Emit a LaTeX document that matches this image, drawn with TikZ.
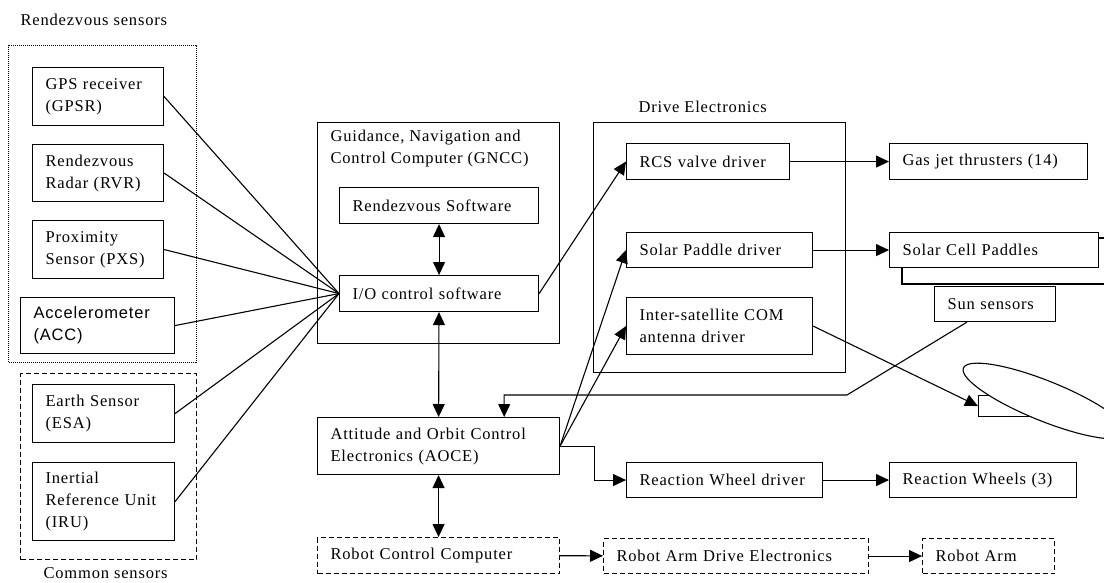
\documentclass[tikz,border=0pt]{standalone}
\usepackage{fontspec}
\setmainfont{Liberation Serif}[LetterSpace=5]
\newfontfamily\accfont{Liberation Sans}[LetterSpace=5]
\usetikzlibrary{arrows.meta,calc}
\tikzset{every node/.style={font=\fontsize{16.5}{22}\selectfont}}
\tikzset{box/.style={draw, fill=white, anchor=north west, inner xsep=13pt, inner ysep=0pt, align=left},
  sz/.code 2 args={\pgfmathsetlengthmacro\boxtw{#1-26}\tikzset{minimum width=#1pt, text width=\boxtw, minimum height=#2pt}},
  grp/.style={box, fill=none},
  lbl/.style={anchor=west, inner sep=0pt},
  arr/.style={-{Triangle[length=13pt,width=12pt]}},
  dbl/.style={{Triangle[length=13pt,width=12pt]}-{Triangle[length=13pt,width=12pt]}}}

\begin{document}
\begin{tikzpicture}[x=1pt,y=-1pt,line width=1.1pt]
   \useasboundingbox (0,0) rectangle (1104,583);
   \clip (0,0) rectangle (1104,583);
   % sensors
   \node[lbl] (rdvlbl) at (20,20) {Rendezvous sensors};
   \node[grp, sz={188}{317}, dash pattern=on 1pt off 1pt] (rdv) at (8,45) {};
   \node[grp, sz={176}{186}, dash pattern=on 5pt off 3pt] (com) at (20,373) {};
   \node[lbl] (comlbl) at (43,573) {Common sensors};
   \node[box, sz={131}{58}] (gps) at (32,67)  {GPS receiver\\(GPSR)};
   \node[box, sz={131}{57}] (rvr) at (32,144) {Rendezvous\\Radar (RVR)};
   \node[box, sz={131}{58}] (pxs) at (32,220) {Proximity\\Sensor (PXS)};
   \node[box, sz={154}{56}, font=\fontsize{16.5}{22}\accfont] (acc) at (20,297) {Accelerometer\\(ACC)};
   \node[box, sz={142}{58}] (esa) at (32,384) {Earth Sensor\\(ESA)};
   \node[box, sz={142}{78}] (iru) at (32,462) {Inertial\\Reference Unit\\(IRU)};
   % GNCC
   \node[grp, sz={242}{221}] (gncc) at (317,122) {};
   \node[anchor=north west, inner sep=0pt, align=left] (gnccttl) at (330,130) {Guidance, Navigation and\\Control Computer (GNCC)};
   \node[box, sz={199}{36}] (rdvsw) at (339,187) {Rendezvous Software};
   \node[box, sz={199}{36}] (io) at (339,275) {I/O control software};
   \node[box, sz={242}{57}] (aoce) at (317,417) {Attitude and Orbit Control\\Electronics (AOCE)};
   \node[box, sz={242}{36}, dash pattern=on 5pt off 3pt] (rcc) at (317,537) {Robot Control Computer};
   % drive electronics
   \node[lbl] (drvlbl) at (638,107) {Drive Electronics};
   \node[grp, sz={252}{250}] (drv) at (593,122) {};
   \node[box, sz={163}{36}] (rcs) at (626,143) {RCS valve driver};
   \node[box, sz={186}{35}] (spd) at (626,232) {Solar Paddle driver};
   \node[box, sz={186}{57}] (isl) at (626,297) {Inter-satellite COM\\antenna driver};
   \node[box, sz={196}{35}] (rwd) at (626,462) {Reaction Wheel driver};
   \node[box, sz={265}{35}, dash pattern=on 5pt off 3pt] (rade) at (603,538) {Robot Arm Drive Electronics};
   % actuators
   \node[box, sz={198}{36}] (gas) at (889,143) {Gas jet thrusters (14)};
   \draw (902,238) rectangle (1130,284);
   \node[box, sz={209}{35}] (scp) at (889,232) {Solar Cell Paddles};
   \node[box, sz={121}{35}] (sun) at (934,286) {Sun sensors};
   \node[box, sz={187}{35}] (rw) at (889,462) {Reaction Wheels (3)};
   \node[box, sz={132}{35}, dash pattern=on 5pt off 3pt] (arm) at (922,538) {Robot Arm};
   \node[box, sz={90}{21}] (ant) at (978,395) {};
   \draw[fill=white, rotate around={-22:(1045,401)}] (1045,401) ellipse [x radius=88pt, y radius=20pt];
   % connections
   \draw (gps.east) -- (io.west);
   \draw (rvr.east) -- (io.west);
   \draw (pxs.east) -- (io.west);
   \draw (acc.east) -- (io.west);
   \draw (esa.east) -- (io.west);
   \draw (iru.east) -- (io.west);
   \draw[dbl] (rdvsw) -- (io);
   \draw[dbl] (io) -- (aoce);
   \draw[dbl] (aoce) -- (rcc);
   \draw[arr] (io.east) -- (rcs.west);
   \draw[arr] (aoce.east) -- (spd.west);
   \draw[arr] (aoce.east) -- (isl.west);
   \draw[arr] (aoce.east) -- ++(34,0) |- (rwd.west);
   \draw[arr] (rcs) -- (gas);
   \draw[arr] (spd) -- (scp);
   \draw[arr] (rwd) -- (rw);
   \draw[arr] (rcc) -- (rade);
   \draw[arr] (rade) -- (arm);
   \draw[arr] (isl.east) -- (ant.west);
   \coordinate (sunbend) at (847,395);
   \draw[arr] ($(sun.south west)!0.27!(sun.south east)$) -- (sunbend) -| ($(aoce.north west)!0.77!(aoce.north east)$);
\end{tikzpicture}
\end{document}
